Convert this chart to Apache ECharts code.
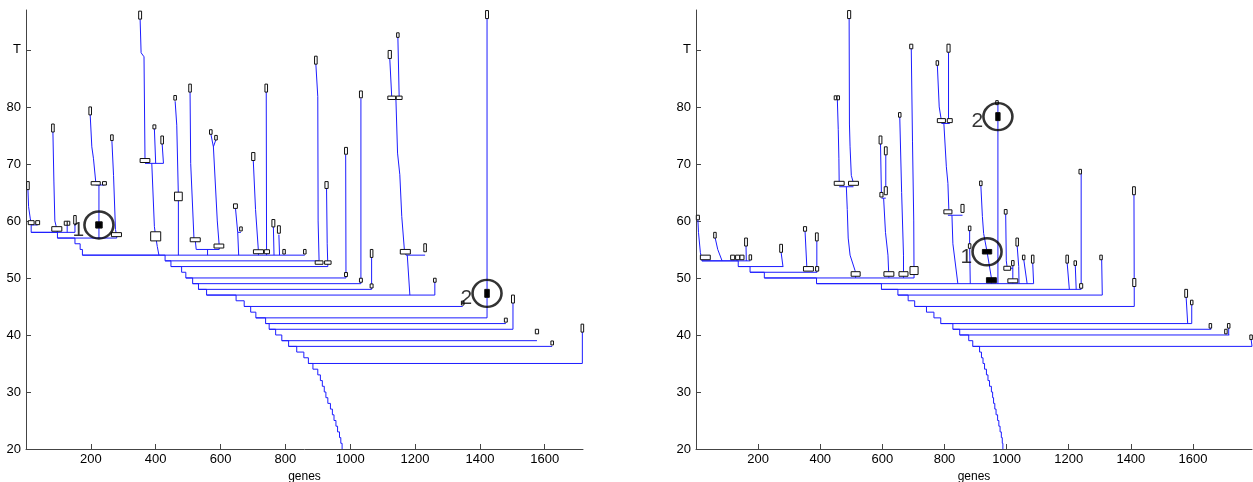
<!DOCTYPE html>
<html>
<head>
<meta charset="utf-8">
<script src="https://cdn.jsdelivr.net/npm/echarts@6/dist/echarts.min.js"></script>
<style>
  html, body { margin: 0; padding: 0; background: #fff; }
  #chart { width: 1253px; height: 482px; }
</style>
</head>
<body>
<div id="chart"></div>
<script>
// axis ticks
var yTicks = [20, 30, 40, 50, 60, 70, 80, 90];
var yTickLabels = ['20', '30', '40', '50', '60', '70', '80', 'T'];
var xTicks = [200, 400, 600, 800, 1000, 1200, 1400, 1600];

// ---- left tree ----
// merge levels of the main staircase and the gene position where each starts
var leftLevels = [58, 57, 56, 55, 54, 53, 52, 51, 50, 49, 48, 47, 46, 45, 44, 43, 42, 41, 40, 39,
                  38, 37, 36, 35, 34, 33, 32, 31, 30, 29, 28, 27, 26, 25, 24, 23, 22, 21, 20];
var leftSpineX = [16, 97, 151, 167, 174, 429, 447, 480, 493, 514, 532, 557, 648, 673, 693, 709, 739, 750, 770, 789,
                  810, 835, 857, 871, 885, 900, 908, 914, 920, 925, 931, 939, 945, 950, 956, 961, 967, 971, 975];
// [level, gene where the branch ends]
var leftBranches = [[58, 151], [57, 280], [54, 860], [53, 904], [52, 931], [50, 987], [49, 1033], [48, 1066],
                    [47, 1261], [45, 1347], [43, 1422], [42, 1480], [41, 1502], [39, 1576], [38, 1623], [35, 1716]];
// sub-trees hanging on the branches
var leftStems = [
  [[6, 65.5], [8, 62.5], [13, 60.5], [16, 59.5], [16, 58]],
  [[16, 59.3], [36, 59.3]],
  [[83, 75.6], [86, 67], [89, 60], [95, 58.6], [97, 58]],
  [[123, 59.3], [131, 59.3]],
  [[127, 59.3], [127, 58]],
  [[151, 59.5], [151, 58]],
  [[198, 78.6], [203, 73], [208, 71], [215, 66.9]],
  [[215, 66.3], [242, 66.3]],
  [[225, 66.3], [225, 57]],
  [[265, 74], [270, 68], [276, 58.5], [279, 57.6], [280, 57]],
  [[352, 95.4], [355, 89.5], [364, 88.8], [367, 71]],
  [[367, 70.1], [424, 70.1]],
  [[396, 76.2], [400, 70.1]],
  [[420, 73.5], [424, 70.1]],
  [[388, 70.1], [396, 59], [400, 57.3], [405, 55.5], [410, 54]],
  [[460, 81], [465, 76.8], [470, 64.3], [470, 54]],
  [[506, 82.6], [508, 70.1], [518, 57], [522, 56.7], [525, 55]],
  [[570, 75.3], [578, 73]],
  [[586, 74.3], [578, 73]],
  [[578, 73], [590, 60], [596, 55.6], [596, 55]],
  [[525, 55], [596, 55]],
  [[560, 55], [560, 54]],
  [[646, 62.3], [653, 58]],
  [[653, 58], [663, 58]],
  [[653, 58], [656, 54]],
  [[701, 70.6], [708, 62], [717, 54.6], [717, 54]],
  [[741, 82.6], [742, 54]],
  [[763, 59], [765, 54]],
  [[780, 57.6], [782, 54]],
  [[894, 87.5], [900, 81.8], [901, 60], [904, 53]],
  [[927, 65.8], [929, 56], [931, 52]],
  [[986, 71.6], [987, 50]],
  [[1033, 81.5], [1033, 49]],
  [[1066, 53.6], [1066, 48]],
  [[1122, 88.5], [1128, 81.8]],
  [[1147, 92.3], [1151, 81.8]],
  [[1128, 81.3], [1151, 81.3]],
  [[1141, 81.3], [1146, 71.9], [1153, 68.1], [1159, 60.8], [1167, 55], [1172, 54]],
  [[1172, 54], [1231, 54]],
  [[1176, 54], [1184, 47]],
  [[1261, 49.6], [1261, 47]],
  [[1422, 95.5], [1422, 43]],
  [[1502, 45.6], [1502, 41]],
  [[1716, 40.5], [1716, 35]]
];
// cluster boxes: [gene, level, width (genes), height (level), filled]
var leftBoxes = [
  [6, 66.2, 8, 1.4, 0], [16, 59.7, 18, 0.7, 0], [36, 59.7, 12, 0.7, 0], [83, 76.3, 8, 1.4, 0],
  [95, 58.6, 31, 0.8, 0], [123, 59.6, 10, 0.7, 0], [131, 59.6, 8, 0.7, 0], [151, 60.2, 7, 1.5, 0],
  [198, 79.3, 8, 1.4, 0], [215, 66.6, 28, 0.6, 0], [242, 66.6, 12, 0.6, 0], [225, 59.3, 20, 1.1, 1],
  [265, 74.6, 8, 1.0, 0], [279, 57.6, 31, 0.7, 0], [352, 96.1, 9, 1.4, 0], [367, 70.6, 30, 0.7, 0],
  [396, 76.5, 9, 0.7, 0], [420, 74.2, 8, 1.4, 0], [400, 57.3, 31, 1.6, 0], [460, 81.6, 8, 0.8, 0],
  [470, 64.3, 24, 1.5, 0], [506, 83.3, 8, 1.4, 0], [522, 56.7, 31, 0.7, 0], [570, 75.6, 8, 0.8, 0],
  [586, 74.6, 8, 0.8, 0], [595, 55.6, 30, 0.7, 0], [646, 62.6, 12, 0.8, 0], [663, 58.6, 8, 0.7, 0],
  [701, 71.3, 10, 1.4, 0], [717, 54.6, 31, 0.7, 0], [741, 83.3, 8, 1.4, 0], [743, 54.6, 16, 0.7, 0],
  [763, 59.6, 9, 1.3, 0], [780, 58.5, 9, 1.3, 0], [796, 54.6, 7, 0.8, 0], [860, 54.6, 7, 0.8, 0],
  [894, 88.2, 8, 1.4, 0], [904, 52.7, 24, 0.6, 0], [931, 52.7, 20, 0.6, 0], [927, 66.3, 10, 1.2, 0],
  [987, 72.3, 9, 1.2, 0], [987, 50.6, 9, 0.7, 0], [1033, 82.2, 9, 1.2, 0], [1033, 49.6, 9, 0.7, 0],
  [1066, 54.3, 8, 1.4, 0], [1066, 48.6, 9, 0.7, 0], [1122, 89.2, 10, 1.4, 0], [1147, 92.6, 7, 0.8, 0],
  [1128, 81.6, 24, 0.6, 0], [1151, 81.6, 18, 0.6, 0], [1170, 54.6, 31, 0.8, 0], [1231, 55.3, 8, 1.4, 0],
  [1261, 49.6, 8, 0.7, 0], [1347, 45.6, 8, 0.7, 0], [1422, 96.2, 9, 1.4, 0], [1422, 47.3, 14, 1.4, 1],
  [1480, 42.6, 9, 0.7, 0], [1502, 46.3, 9, 1.4, 0], [1576, 40.6, 10, 0.8, 0], [1623, 38.6, 8, 0.7, 0],
  [1716, 41.2, 8, 1.4, 0]
];
var leftRings = [[225, 59.3, '1'], [1422, 47.3, '2']];

// ---- right tree ----
var rightLevels = [53, 52, 51, 50, 49, 48, 47, 46, 45, 44, 43, 42, 41, 40, 39, 38, 37, 36, 35, 34,
                   33, 32, 31, 30, 29, 28, 27, 26, 25, 24, 23, 22, 21, 20];
var rightSpineX = [19, 136, 174, 220, 388, 597, 650, 683, 704, 742, 766, 788, 827, 849, 878, 891, 913, 919, 924, 929,
                   935, 940, 945, 951, 955, 958, 962, 966, 971, 975, 979, 983, 986, 988];
var rightBranches = [[53, 175], [52, 281], [51, 390], [50, 702], [49, 1087], [48, 1240], [47, 1308],
                     [45, 1411], [42, 1596], [41, 1658], [40, 1717], [38, 1790]];
var rightStems = [
  [[6, 60.3], [8, 58], [14, 54.5], [19, 53]],
  [[61, 57.2], [70, 55], [84, 53]],
  [[161, 55.6], [162, 53]],
  [[274, 54.5], [280, 52]],
  [[351, 58.3], [357, 51.7]],
  [[389, 56.5], [389, 51]],
  [[455, 81.3], [458, 76], [460, 71], [461, 66.6]],
  [[493, 95.5], [494, 77], [496, 73], [500, 68], [507, 66.6]],
  [[461, 66], [507, 66]],
  [[484, 66], [487, 62], [490, 57], [496, 54], [512, 51.3], [514, 50]],
  [[594, 73.5], [597, 64.6]],
  [[611, 71.6], [611, 65.3]],
  [[597, 64], [611, 64]],
  [[604, 64], [610, 58], [618, 54], [621, 50]],
  [[656, 78.3], [662, 65], [668, 54], [668, 50]],
  [[693, 90.3], [697, 74], [701, 60], [702, 50]],
  [[777, 87.3], [783, 80], [790, 77.6]],
  [[813, 89.6], [813, 77.6]],
  [[790, 77.1], [817, 77.1]],
  [[798, 77.1], [806, 69.5], [811, 66.6], [814, 62]],
  [[811, 61], [858, 61]],
  [[824, 61], [827, 56], [843, 49]],
  [[881, 58.4], [881, 55.6], [883, 49]],
  [[917, 66.3], [922, 60.8], [926, 57.8], [937, 54.6], [951, 50], [951, 49]],
  [[972, 80.5], [972, 49]],
  [[997, 61.3], [999, 53], [1002, 51.7]],
  [[1002, 51.7], [1020, 51.7]],
  [[1020, 52.3], [1020, 49]],
  [[1034, 55.6], [1039, 52], [1040, 49]],
  [[1055, 53.3], [1066, 49]],
  [[1084, 52.6], [1087, 49]],
  [[1195, 52.6], [1202, 48]],
  [[1221, 52.3], [1224, 48]],
  [[1240, 68.3], [1240, 48]],
  [[1306, 53.3], [1308, 47]],
  [[1410, 65], [1411, 45]],
  [[1578, 46.6], [1583, 42]],
  [[1596, 45.4], [1596, 42]],
  [[1656, 41.3], [1658, 41]],
  [[1715, 41.3], [1715, 40]],
  [[1787, 39.3], [1790, 38]]
];
var rightBoxes = [
  [6, 60.6, 10, 0.8, 0], [30, 53.6, 32, 0.8, 0], [61, 57.5, 7, 1.0, 0], [118, 53.6, 13, 0.8, 0],
  [134, 53.6, 13, 0.8, 0], [148, 53.6, 13, 0.8, 0], [161, 56.3, 9, 1.4, 0], [175, 53.6, 7, 0.9, 0],
  [274, 55.2, 9, 1.4, 0], [351, 58.6, 10, 0.8, 0], [362, 51.6, 32, 0.8, 0], [389, 57.2, 9, 1.4, 0],
  [390, 51.6, 10, 0.8, 0], [449, 81.6, 8, 0.7, 0], [458, 81.6, 8, 0.7, 0], [461, 66.6, 32, 0.7, 0],
  [507, 66.6, 32, 0.7, 0], [493, 96.2, 10, 1.4, 0], [514, 50.7, 29, 0.8, 0], [594, 74.2, 9, 1.4, 0],
  [611, 72.3, 9, 1.4, 0], [597, 64.6, 10, 0.8, 0], [611, 65.3, 10, 1.4, 0], [621, 50.7, 32, 0.8, 0],
  [656, 78.6, 7, 0.8, 0], [668, 50.7, 29, 0.8, 0], [693, 90.6, 10, 0.8, 0], [702, 51.3, 26, 1.4, 0],
  [777, 87.7, 7, 0.8, 0], [790, 77.6, 26, 0.7, 0], [817, 77.6, 16, 0.7, 0], [813, 90.3, 10, 1.4, 0],
  [811, 61.6, 26, 0.7, 0], [858, 62.2, 10, 1.4, 0], [881, 58.7, 8, 0.8, 0], [881, 55.6, 8, 0.8, 0],
  [917, 66.6, 8, 0.8, 0], [937, 54.6, 30, 0.8, 1], [951, 49.6, 32, 0.9, 1], [969, 80.75, 8, 0.7, 0],
  [972, 78.3, 14, 1.4, 1], [997, 61.6, 9, 0.8, 0], [1002, 51.7, 22, 0.7, 0], [1020, 52.6, 8, 0.9, 0],
  [1020, 49.5, 32, 0.7, 0], [1034, 56.3, 8, 1.4, 0], [1055, 53.6, 7, 0.8, 0], [1084, 53.3, 8, 1.4, 0],
  [1195, 53.3, 8, 1.4, 0], [1221, 52.6, 8, 0.8, 0], [1237, 68.65, 8, 0.8, 0], [1240, 48.6, 10, 0.8, 0],
  [1304, 53.6, 8, 0.8, 0], [1410, 65.3, 9, 1.4, 0], [1411, 49.2, 10, 1.4, 0], [1578, 47.3, 9, 1.4, 0],
  [1596, 45.7, 8, 0.8, 0], [1656, 41.6, 7, 0.8, 0], [1706, 40.6, 8, 0.8, 0], [1715, 41.6, 7, 0.8, 0],
  [1787, 39.6, 7, 0.8, 0]
];
var rightRings = [[937, 54.6, '1'], [972, 78.3, '2']];

var FONT = 'Liberation Sans, Arial, sans-serif';
var BLUE = '#1c1cff';

// turn staircase, branches and stems into plain [x1, y1, x2, y2] segments
function buildSegments(levels, spineX, branches, stems) {
  var segs = [];
  for (var i = 0; i < levels.length - 1; i++) {
    segs.push([spineX[i], levels[i], spineX[i + 1], levels[i]]);
    segs.push([spineX[i + 1], levels[i], spineX[i + 1], levels[i + 1]]);
  }
  branches.forEach(function (b) {
    var k = levels.indexOf(b[0]);
    segs.push([spineX[k], b[0], b[1], b[0]]);
  });
  stems.forEach(function (p) {
    for (var j = 0; j < p.length - 1; j++) {
      segs.push([p[j][0], p[j][1], p[j + 1][0], p[j + 1][1]]);
    }
  });
  return segs;
}

function lineSeries(idx, segs) {
  return {
    type: 'custom', xAxisIndex: idx, yAxisIndex: idx, data: segs, z: 2, silent: true,
    renderItem: function (params, api) {
      var a = api.coord([api.value(0), api.value(1)]);
      var b = api.coord([api.value(2), api.value(3)]);
      return {
        type: 'line',
        shape: { x1: a[0], y1: a[1], x2: b[0], y2: b[1] },
        style: { stroke: BLUE, lineWidth: 1 }
      };
    }
  };
}

function boxSeries(idx, boxes) {
  return {
    type: 'custom', xAxisIndex: idx, yAxisIndex: idx, data: boxes, z: 3, silent: true,
    renderItem: function (params, api) {
      var c = api.coord([api.value(0), api.value(1)]);
      var s = api.size([api.value(2), api.value(3)]);
      var w = Math.max(s[0], 2.5), h = Math.max(s[1], 2.5);
      return {
        type: 'rect',
        shape: { x: c[0] - w / 2, y: c[1] - h / 2, width: w, height: h },
        style: { fill: api.value(4) ? '#000' : '#fff', stroke: '#111', lineWidth: 1 }
      };
    }
  };
}

function ringSeries(idx, rings) {
  return {
    type: 'scatter', xAxisIndex: idx, yAxisIndex: idx, data: rings, z: 4, silent: true,
    symbol: 'circle', symbolSize: [29, 27],
    itemStyle: { color: 'rgba(0,0,0,0)', borderColor: '#000', borderWidth: 2.5 },
    label: {
      show: true, position: 'left', distance: -1, offset: [0, 5],
      formatter: function (p) { return p.value[2]; },
      fontFamily: FONT, fontSize: 21, color: '#000'
    }
  };
}

function xAxis(idx, max) {
  return {
    type: 'value', gridIndex: idx, min: 0, max: max, interval: 200,
    name: 'genes', nameLocation: 'middle', nameGap: 17,
    nameTextStyle: { fontFamily: FONT, fontSize: 12, color: '#000' },
    axisLine: { onZero: false, lineStyle: { color: '#444', width: 1 } },
    axisTick: { inside: true, length: 5, customValues: xTicks, lineStyle: { color: '#444' } },
    axisLabel: {
      customValues: xTicks, margin: 4, fontFamily: FONT, fontSize: 13, color: '#000',
      formatter: function (v) { return xTicks.indexOf(v) < 0 ? '' : String(v); }
    },
    splitLine: { show: false }
  };
}

function yAxis(idx) {
  return {
    type: 'value', gridIndex: idx, min: 20, max: 97, interval: 10,
    axisLine: { show: true, onZero: false, lineStyle: { color: '#444', width: 1 } },
    axisTick: { show: true, inside: true, length: 5, customValues: yTicks, lineStyle: { color: '#444' } },
    axisLabel: {
      customValues: yTicks, margin: 5, fontFamily: FONT, fontSize: 13, color: '#000',
      formatter: function (v) { var i = yTicks.indexOf(v); return i < 0 ? '' : yTickLabels[i]; }
    },
    splitLine: { show: false }
  };
}

var myChart = echarts.init(document.getElementById('chart'), null, { renderer: 'canvas' });
var option = {
  animation: false,
  backgroundColor: '#fff',
  grid: [
    { left: 26, right: 670, top: 10, bottom: 33, containLabel: false, outerBoundsMode: 'none' },
    { left: 696, right: 1, top: 10, bottom: 33, containLabel: false, outerBoundsMode: 'none' }
  ],
  xAxis: [xAxis(0, 1718), xAxis(1, 1790)],
  yAxis: [yAxis(0), yAxis(1)],
  series: [
    lineSeries(0, buildSegments(leftLevels, leftSpineX, leftBranches, leftStems)),
    boxSeries(0, leftBoxes),
    ringSeries(0, leftRings),
    lineSeries(1, buildSegments(rightLevels, rightSpineX, rightBranches, rightStems)),
    boxSeries(1, rightBoxes),
    ringSeries(1, rightRings)
  ]
};
myChart.setOption(option);
</script>
</body>
</html>
